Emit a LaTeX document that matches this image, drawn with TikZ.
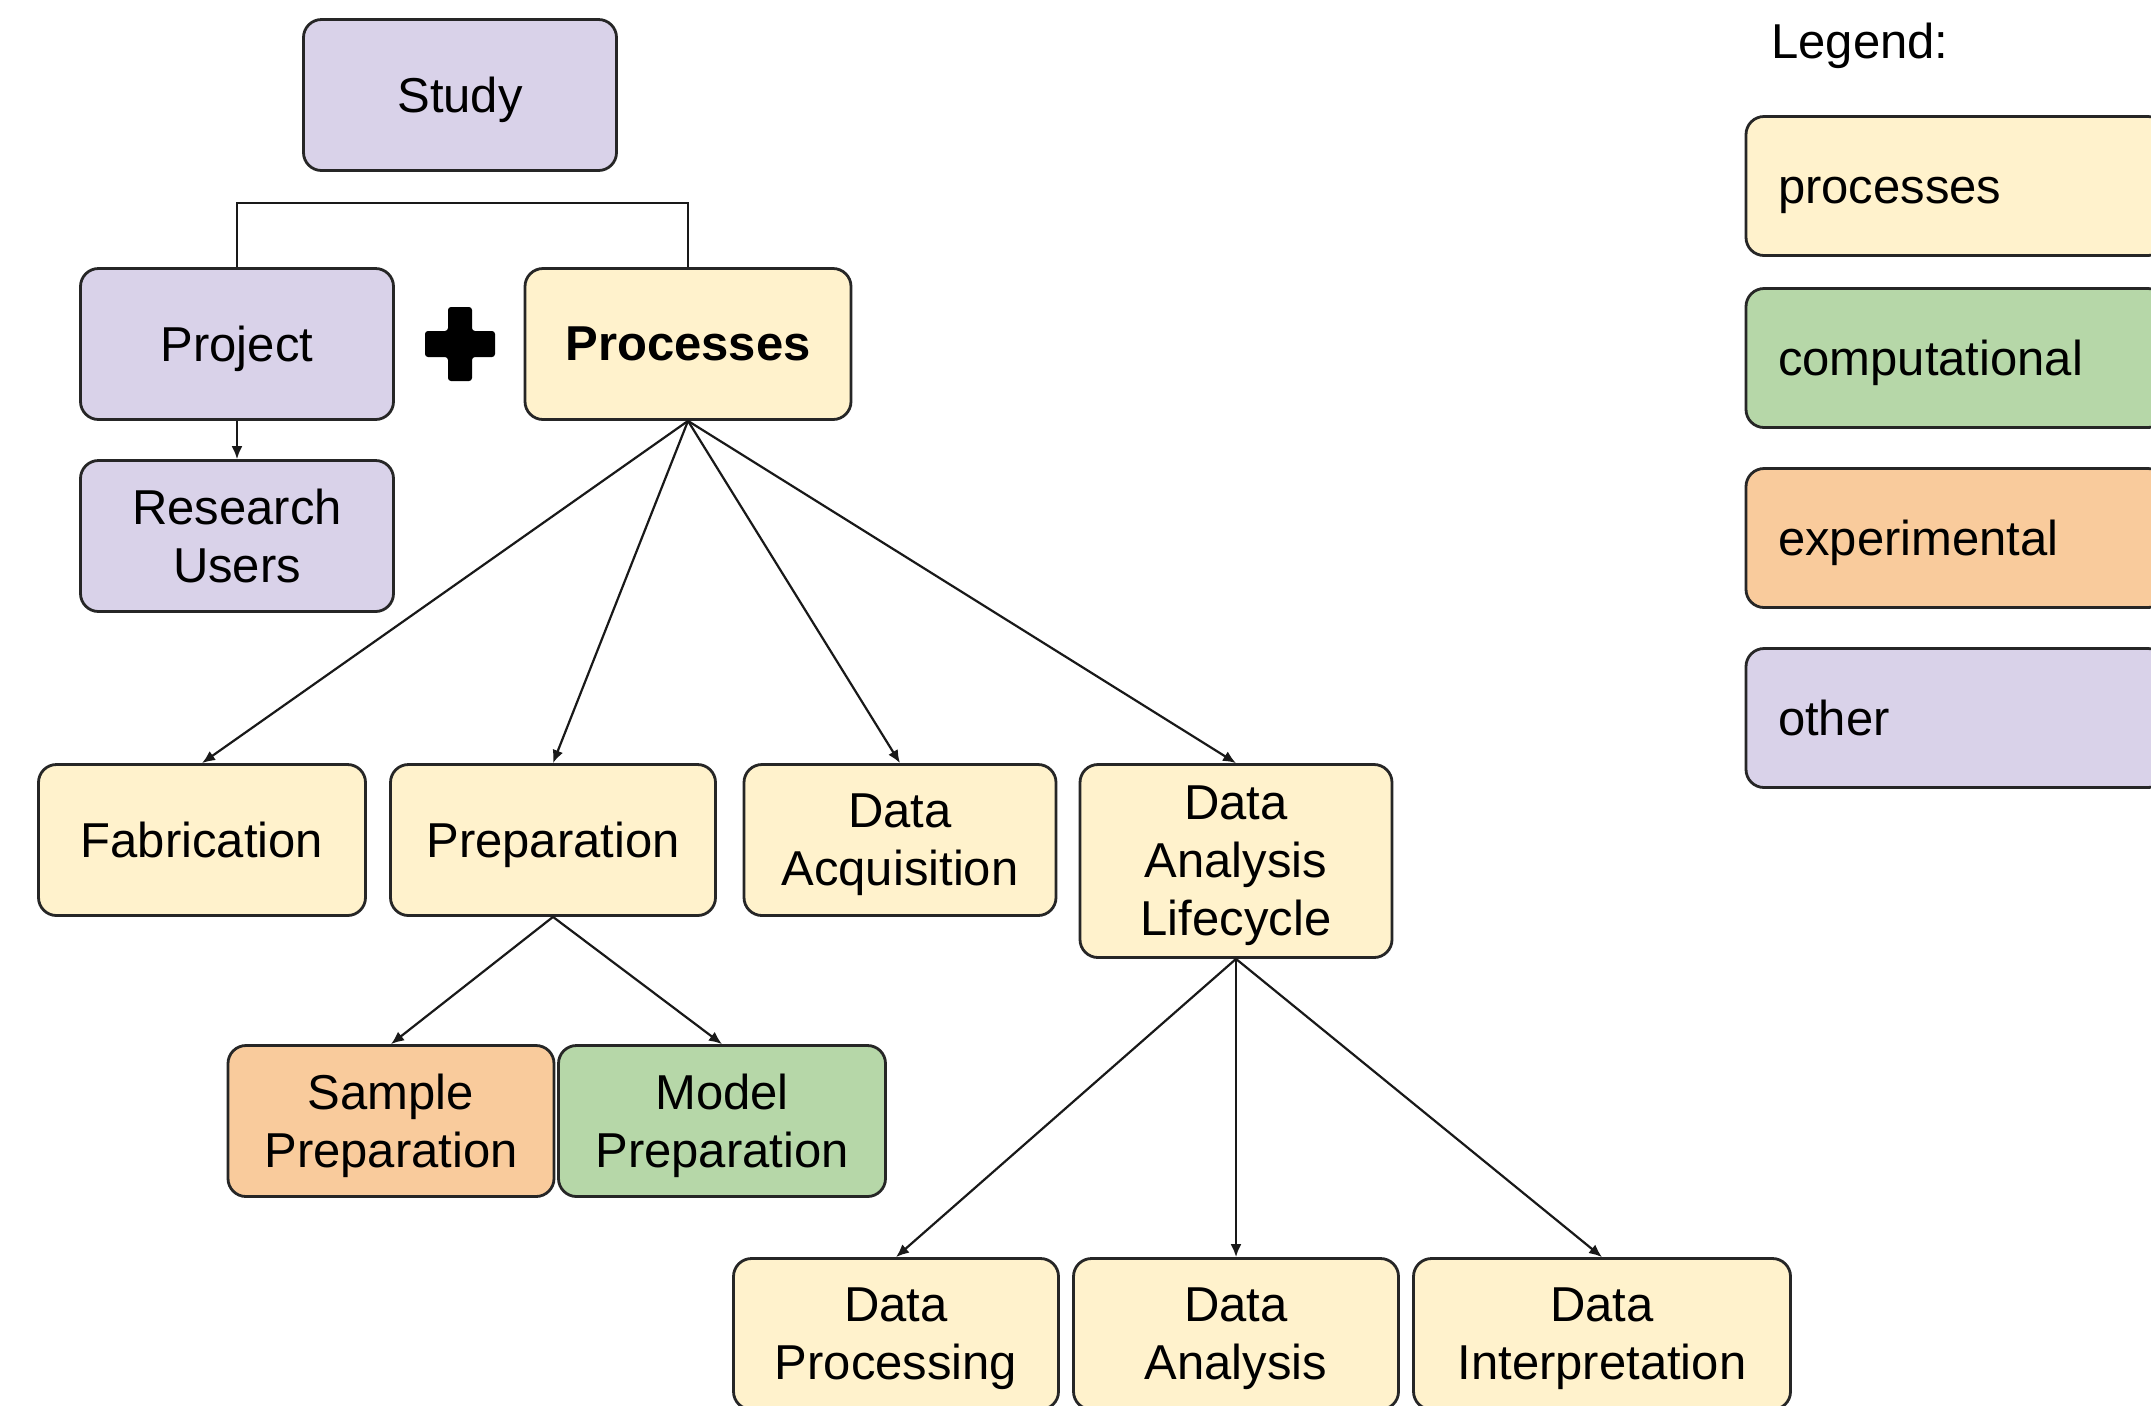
\documentclass[tikz,border=0pt]{standalone}
\usepackage{fontspec}
\setmainfont{Liberation Sans}
\usetikzlibrary{arrows.meta}
\definecolor{procY}{HTML}{FFF2CC}
\definecolor{compG}{HTML}{B6D7A8}
\definecolor{expO}{HTML}{F9CB9C}
\definecolor{othP}{HTML}{D9D2E9}
\definecolor{edge}{HTML}{262626}
\begin{document}
\begin{tikzpicture}[x=0.5pt,y=-0.5pt,
  box/.style={draw=edge, line width=1.4pt, rounded corners=9pt, align=center,
    inner sep=0pt, minimum height=75.5pt, text depth=0pt,
    font=\fontsize{24.5}{29}\selectfont},
  proc/.style={box, fill=procY},
  comp/.style={box, fill=compG},
  expm/.style={box, fill=expO},
  oth/.style={box, fill=othP},
  legbox/.style={box, text width=178pt, align=left, inner xsep=16pt, inner ysep=0pt,
    minimum height=69.5pt, text height=17.6pt},
  conn/.style={draw=black!90, line width=1.1pt},
  arr/.style={conn, -{Latex[length=6.5pt,width=5.5pt]}}
]
\useasboundingbox (0,0) rectangle (2151,1405);
\clip (0,0) rectangle (2151,1405);
\fill[white] (0,0) rectangle (2151,1405);

% top part
\node[oth, minimum width=156.5pt] (study) at (460,95) {Study};
\node[oth, minimum width=156.5pt] (project) at (237,344) {Project};
\node[proc, minimum width=163pt] (processes) at (688,344) {\bfseries Processes};
\node[oth, minimum width=156.5pt] (users) at (237,536) {Research\\Users};

\coordinate (bar) at (0,203);
\draw[conn] (project.north) -- (project.north |- bar) -| (processes.north);
\draw[arr] (project.south) -- (users.north);

% plus sign
\coordinate (plus) at (460,344);
\fill[black, rounded corners=1.5pt] ([shift={(-12,-37)}]plus) -- ([shift={(12,-37)}]plus) -- ([shift={(12,-13)}]plus)
  -- ([shift={(35,-13)}]plus) -- ([shift={(35,13)}]plus) -- ([shift={(12,13)}]plus)
  -- ([shift={(12,37)}]plus) -- ([shift={(-12,37)}]plus) -- ([shift={(-12,13)}]plus)
  -- ([shift={(-35,13)}]plus) -- ([shift={(-35,-13)}]plus) -- ([shift={(-12,-13)}]plus) -- cycle;

% second level
\node[proc, minimum width=163.5pt] (fab) at (202,840) {Fabrication};
\node[proc, minimum width=162.5pt] (prep) at (553,840) {Preparation};
\node[proc, minimum width=156pt] (acq) at (900,840) {Data\\Acquisition};
\node[proc, minimum width=156pt, minimum height=96.5pt] (dal) at (1236,861) {Data\\Analysis\\Lifecycle};

\foreach \c in {fab,prep,acq,dal}
  \draw[arr] (processes.south) -- (\c.north);

% third level
\node[expm, minimum width=163pt] (sample) at (391,1121) {Sample\\Preparation};
\node[comp, minimum width=163.5pt] (model) at (722,1121) {Model\\Preparation};
\draw[arr] (prep.south) -- (sample.north);
\draw[arr] (prep.south) -- (model.north);

\node[proc, minimum width=162.5pt] (dproc) at (896,1334) {Data\\Processing};
\node[proc, minimum width=162.5pt] (danal) at (1236,1334) {Data\\Analysis};
\node[proc, minimum width=188.5pt] (dint) at (1602,1334) {Data\\Interpretation};
\foreach \c in {dproc,danal,dint}
  \draw[arr] (dal.south) -- (\c.north);

% legend
\node[anchor=west, inner sep=0pt, text height=17.6pt, text depth=0pt,
  font=\fontsize{24.5}{29}\selectfont] (legtitle) at (1771,41) {Legend:};
\node[legbox, fill=procY] (lproc) at (1956,186) {processes};
\node[legbox, fill=compG] (lcomp) at (1956,358) {computational};
\node[legbox, fill=expO] (lexp) at (1956,538) {experimental};
\node[legbox, fill=othP] (loth) at (1956,718) {other};
\end{tikzpicture}
\end{document}
